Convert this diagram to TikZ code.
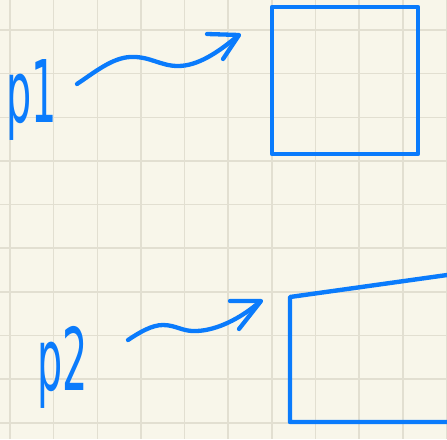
\documentclass[tikz,border=0pt]{standalone}
\usepackage{fontspec}
\setmainfont{DejaVu Sans}
\usepackage{graphicx}
\definecolor{paper}{RGB}{248,246,234}
\definecolor{gridc}{RGB}{226,223,209}
\definecolor{ink}{RGB}{10,123,252}
\tikzset{
  gridline/.style={draw=gridc, line width=1.6pt},
  pen/.style={draw=ink, line width=4.3pt, line cap=round, line join=round},
  box/.style={draw=ink, line width=4.4pt, inner sep=0pt, line join=round},
  label/.style={text=ink, anchor=base west, inner sep=0pt, font=\fontsize{64}{64}\selectfont}
}
\begin{document}
\begin{tikzpicture}[x=1pt,y=-1pt]
\useasboundingbox (0,0) rectangle (447,439);
\clip (0,0) rectangle (447,439);
\fill[paper] (0,0) rectangle (447,439);
\foreach \i in {0,...,10} \draw[gridline] ({10+43.65*\i},0) -- ++(0,439);
\foreach \i in {0,...,9} \draw[gridline] (0,{30+43.65*\i}) -- ++(447,0);

% labels
\node[label] (p1) at (6,122) {\scalebox{0.62}[1.35]{p1}};
\node[label] (p2) at (37,390) {\scalebox{0.62}[1.35]{p2}};

% square
\node[box, minimum width=146pt, minimum height=147pt] (sq1) at (345,80.5) {};

% quadrilateral
\coordinate (qtr) at (465,272.5);
\coordinate (qtl) at (290,297);
\coordinate (qbl) at (290,422);
\coordinate (qbr) at (465,422);
\draw[box] (qtr) -- (qtl) -- (qbl) -- (qbr);

% arrow 1
\coordinate (a1s) at (77,84);
\coordinate (a1t) at (239,35);
\draw[pen] (a1s) .. controls (95,72) and (112,58) .. (130,57)
  .. controls (150,56) and (160,66) .. (178,66)
  .. controls (198,66) and (218,52) .. (234,39);
\draw[pen] (207,34) -- (a1t) -- (223,59);

% arrow 2
\coordinate (a2s) at (128,340);
\coordinate (a2t) at (261,301);
\draw[pen] (a2s) .. controls (140,332) and (152,325) .. (163,325)
  .. controls (176,325) and (183,332) .. (197,331)
  .. controls (218,330) and (240,318) .. (256,305);
\draw[pen] (230,301) -- (a2t) -- (239,329);
\end{tikzpicture}
\end{document}
